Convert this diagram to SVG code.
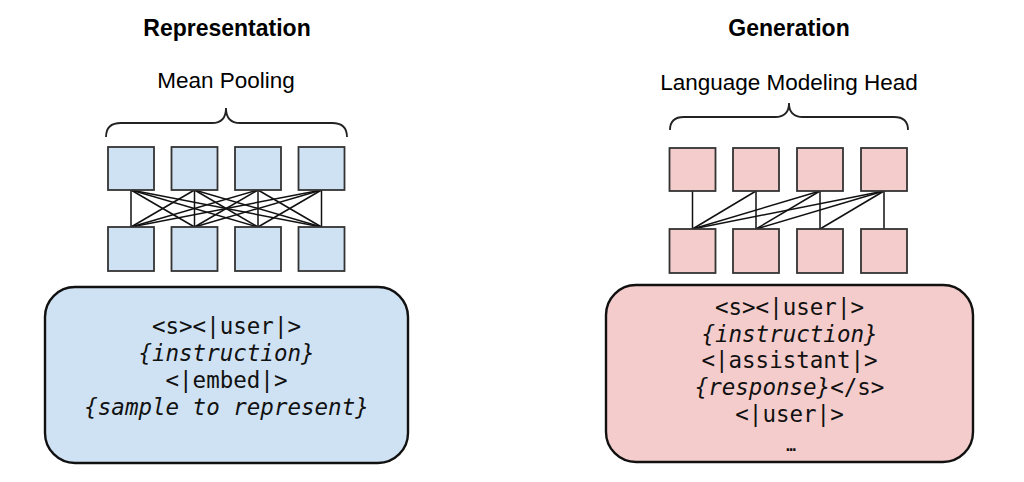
<svg xmlns="http://www.w3.org/2000/svg" width="1024" height="482" viewBox="0 0 1024 482">
<style>
.title{font-family:"Liberation Sans",Arial,sans-serif;font-weight:bold;font-size:23px;fill:#000;text-anchor:middle}
.label{font-family:"Liberation Sans",Arial,sans-serif;font-size:22.5px;fill:#000;text-anchor:middle}
.mono{font-family:"DejaVu Sans Mono","Liberation Mono",monospace;font-size:22.5px;fill:#111;text-anchor:middle}
.it{font-style:italic}
.brace{fill:none;stroke:#222;stroke-width:1.8}
.sqb{fill:#cfe2f3;stroke:#333;stroke-width:1.8}
.sqp{fill:#f4cccc;stroke:#333;stroke-width:1.8}
.boxb{fill:#cfe2f3;stroke:#111;stroke-width:2.4}
.boxp{fill:#f4cccc;stroke:#111;stroke-width:2.4}
.conn line{stroke:#111;stroke-width:1.5}
</style>
<rect width="1024" height="482" fill="#fff"/>

<g id="representation">
<text class="title" x="227" y="36">Representation</text>
<text class="label" x="226" y="88">Mean Pooling</text>
<path class="brace" d="M106,137 Q106,123 121,123 L212,123 Q226,123 226,108 Q226,123 240,123 L332,123 Q347,123 347,137"/>
</g>

<g id="generation">
<text class="title" x="789" y="36">Generation</text>
<text class="label" x="789" y="90">Language Modeling Head</text>
<path class="brace" d="M670,130 Q670,117 684,117 L775,117 Q789,117 789,103 Q789,117 803,117 L894,117 Q908,117 908,130"/>
</g>

<g id="conn-left" class="conn">
<line x1="131" y1="190" x2="131" y2="227"/><line x1="131" y1="190" x2="194.5" y2="227"/><line x1="131" y1="190" x2="258" y2="227"/><line x1="131" y1="190" x2="321.5" y2="227"/>
<line x1="194.5" y1="190" x2="131" y2="227"/><line x1="194.5" y1="190" x2="194.5" y2="227"/><line x1="194.5" y1="190" x2="258" y2="227"/><line x1="194.5" y1="190" x2="321.5" y2="227"/>
<line x1="258" y1="190" x2="131" y2="227"/><line x1="258" y1="190" x2="194.5" y2="227"/><line x1="258" y1="190" x2="258" y2="227"/><line x1="258" y1="190" x2="321.5" y2="227"/>
<line x1="321.5" y1="190" x2="131" y2="227"/><line x1="321.5" y1="190" x2="194.5" y2="227"/><line x1="321.5" y1="190" x2="258" y2="227"/><line x1="321.5" y1="190" x2="321.5" y2="227"/>
</g>

<g id="conn-right" class="conn">
<line x1="692.5" y1="191" x2="692.5" y2="229"/>
<line x1="756" y1="191" x2="692.5" y2="229"/><line x1="756" y1="191" x2="756" y2="229"/>
<line x1="820" y1="191" x2="692.5" y2="229"/><line x1="820" y1="191" x2="756" y2="229"/><line x1="820" y1="191" x2="820" y2="229"/>
<line x1="884" y1="191" x2="692.5" y2="229"/><line x1="884" y1="191" x2="756" y2="229"/><line x1="884" y1="191" x2="820" y2="229"/><line x1="884" y1="191" x2="884" y2="229"/>
</g>

<g id="rep-top">
<rect class="sqb" x="108" y="147" width="46" height="43"/>
<rect class="sqb" x="171.5" y="147" width="46" height="43"/>
<rect class="sqb" x="235" y="147" width="46" height="43"/>
<rect class="sqb" x="298.5" y="147" width="46" height="43"/>
</g>
<g id="rep-bottom">
<rect class="sqb" x="108" y="227" width="46" height="44"/>
<rect class="sqb" x="171.5" y="227" width="46" height="44"/>
<rect class="sqb" x="235" y="227" width="46" height="44"/>
<rect class="sqb" x="298.5" y="227" width="46" height="44"/>
</g>

<g id="gen-top">
<rect class="sqp" x="669.5" y="148" width="46" height="43"/>
<rect class="sqp" x="733" y="148" width="46" height="43"/>
<rect class="sqp" x="797" y="148" width="46" height="43"/>
<rect class="sqp" x="861" y="148" width="46" height="43"/>
</g>
<g id="gen-bottom">
<rect class="sqp" x="669.5" y="229" width="46" height="44"/>
<rect class="sqp" x="733" y="229" width="46" height="44"/>
<rect class="sqp" x="797" y="229" width="46" height="44"/>
<rect class="sqp" x="861" y="229" width="46" height="44"/>
</g>

<g id="rep-prompt">
<rect class="boxb" x="45" y="287" width="363" height="176" rx="30" ry="30"/>
<text class="mono" x="226.5" y="334">&lt;s&gt;&lt;|user|&gt;</text>
<text class="mono it" x="226.5" y="361">{instruction}</text>
<text class="mono" x="226.5" y="388">&lt;|embed|&gt;</text>
<text class="mono it" x="226.5" y="415">{sample to represent}</text>
</g>

<g id="gen-prompt">
<rect class="boxp" x="606" y="285" width="367" height="177" rx="30" ry="30"/>
<text class="mono" x="789.5" y="315">&lt;s&gt;&lt;|user|&gt;</text>
<text class="mono it" x="789.5" y="342">{instruction}</text>
<text class="mono" x="789.5" y="368">&lt;|assistant|&gt;</text>
<text class="mono" x="789.5" y="395"><tspan class="it">{response}</tspan>&lt;/s&gt;</text>
<text class="mono" x="789.5" y="422">&lt;|user|&gt;</text>
<text class="mono" x="791" y="451" style="font-size:16px;font-weight:bold">…</text>
</g>
</svg>
